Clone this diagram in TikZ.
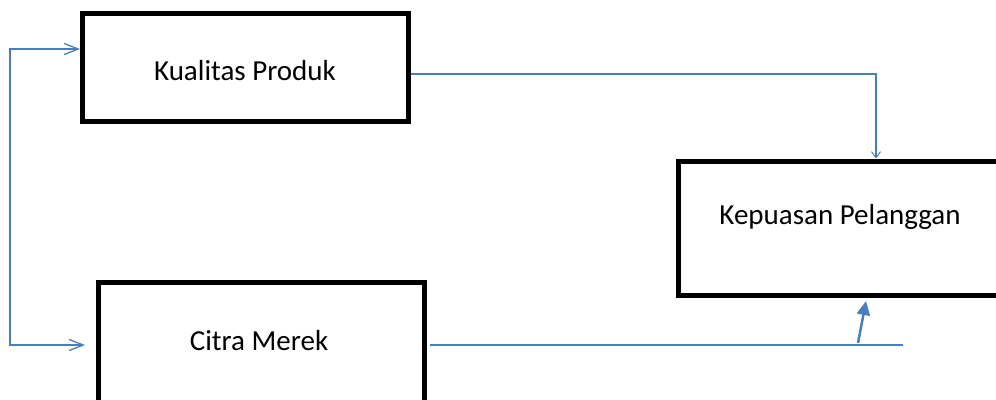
\documentclass[tikz,border=0pt]{standalone}
\usepackage{fontspec}
\setmainfont{Carlito}
\usetikzlibrary{arrows.meta}
\definecolor{conblue}{RGB}{74,126,187}
\tikzset{
  box/.style={draw=black, line width=5pt, rectangle, inner sep=0pt, fill=white},
  lbl/.style={anchor=base, inner sep=0pt, font=\fontsize{29}{34}\selectfont},
  conn/.style={draw=conblue, line width=1.3pt},
  barb/.style={-{Straight Barb[length=14pt,width=11pt,line width=1.3pt]}},
}
\begin{document}
\begin{tikzpicture}[x=1pt,y=-1pt]
\path[use as bounding box, clip] (0,0) rectangle (996,399);
% boxes
\node[box, minimum width=325.5pt, minimum height=108pt] (kp) at (245.25,67.5) {};
\node[box, minimum width=326pt, minimum height=134pt] (cm) at (261,349) {};
\node[box, minimum width=332pt, minimum height=134pt] (kps) at (844,228) {};
% labels
\node[lbl] (tkp) at (245,80) {Kualitas Produk};
\node[lbl] (tcm) at (259,350) {Citra Merek};
\node[lbl] (tkps) at (840,224) {Kepuasan Pelanggan};
% connector coordinates
\coordinate (lt) at (10,49);
\coordinate (lb) at (10,345);
\coordinate (lbend) at (85,345);
\coordinate (tr) at (876,74);
\coordinate (bs) at (430,345);
\coordinate (be) at (903,345);
\coordinate (bfoot) at (858,343);
\coordinate (btip) at (866,301);
% left bracket with two arrows
\draw[conn, barb] (lb) -- (lt) -- (kp.west |- lt);
\draw[conn, barb] (lt) -- (lb) -- (lbend);
% top connector
\draw[conn, -{Straight Barb[length=6pt,width=9pt,line width=1pt]}, line width=1.2pt]
  (kp.east |- tr) -- (tr) -- (kps.north -| tr);
% bottom connector
\draw[conn, line width=1.5pt] (bs) -- (be);
\draw[conn, line width=2.5pt, -{Triangle[length=14pt,width=13pt]}] (bfoot) -- (btip);
\end{tikzpicture}
\end{document}
